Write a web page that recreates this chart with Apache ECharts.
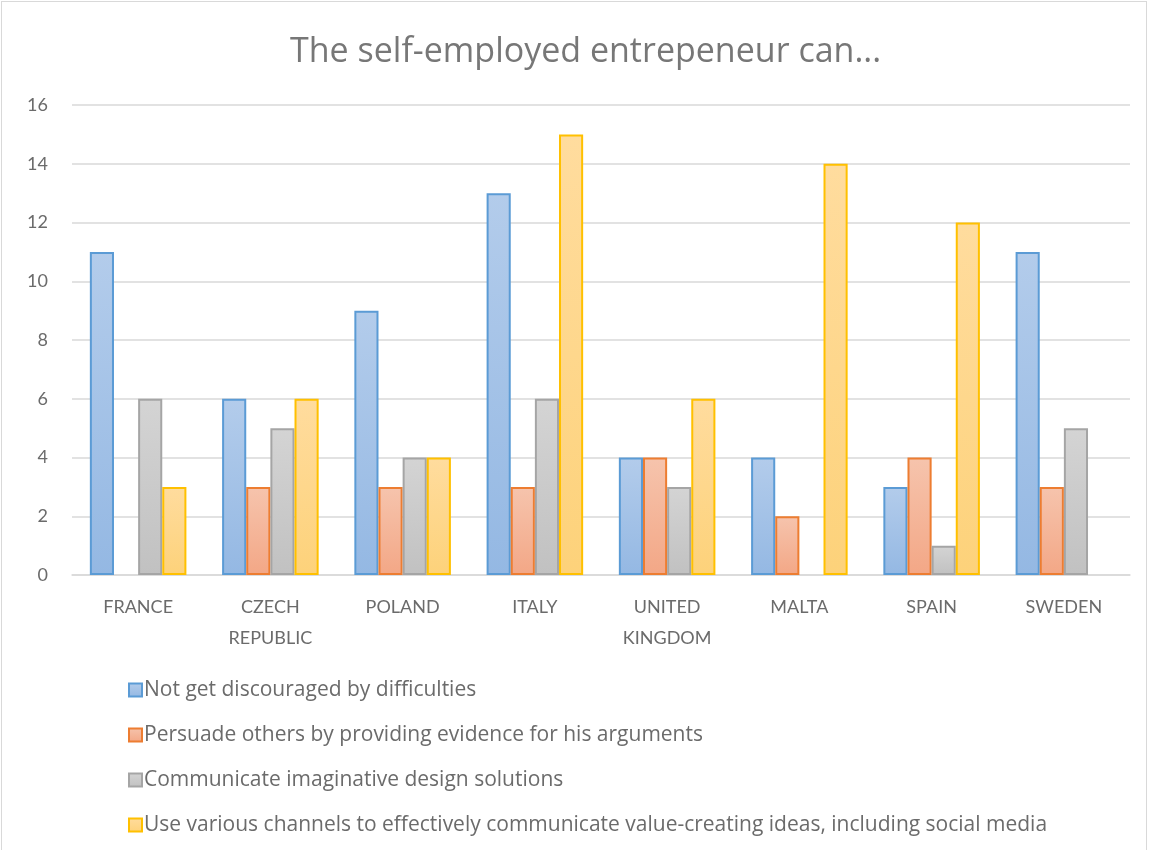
<!DOCTYPE html>
<html>
<head>
<meta charset="utf-8">
<script src="https://cdn.jsdelivr.net/npm/echarts@6/dist/echarts.min.js"></script>
<style>
  html, body { margin: 0; padding: 0; background: #fff; }
  #chart { position: absolute; left: 1px; top: 1px; width: 1146px; height: 860px;
    border: 1px solid #d9d9d9; box-sizing: border-box; }
</style>
</head>
<body>
<div id="chart"></div>
<script>
// data
const countries = ['FRANCE', 'CZECH\nREPUBLIC', 'POLAND', 'ITALY', 'UNITED\nKINGDOM', 'MALTA', 'SPAIN', 'SWEDEN']
const seriesNames = [
  'Not get discouraged by difficulties',
  'Persuade others by providing evidence for his arguments',
  'Communicate imaginative design solutions',
  'Use various channels to effectively communicate value-creating ideas, including social media'
]
const notDiscouraged = [11, 6, 9, 13, 4, 4, 3, 11]
const persuade = [null, 3, 3, 3, 4, 2, 4, 3]
const imaginative = [6, 5, 4, 6, 3, null, 1, 5]
const channels = [3, 6, 4, 15, 6, 14, 12, null]

const colors = [
  { top: '#b3cceb', bottom: '#94b8e3', line: '#5b9bd5' },
  { top: '#f6c4ad', bottom: '#f3a786', line: '#ed7d31' },
  { top: '#d4d4d4', bottom: '#c1c1c1', line: '#a5a5a5' },
  { top: '#ffdc9e', bottom: '#fdd27a', line: '#ffc000' }
]
const fontFamily = 'Lato, "Open Sans", sans-serif'
const wideFont = '"Open Sans", Lato, sans-serif'
const textColor = '#6b6b6b'

const chart = echarts.init(document.getElementById('chart'))
const allData = [notDiscouraged, persuade, imaginative, channels]

chart.setOption({
  animation: false,
  title: {
    text: 'The self-employed entrepeneur can...',
    left: 288,
    top: 33,
    padding: 0,
    textStyle: { color: '#777777', fontSize: 34, fontWeight: 'normal', fontFamily: wideFont }
  },
  legend: {
    orient: 'vertical',
    left: 126,
    top: 674,
    padding: 0,
    itemGap: 17,
    itemWidth: 13,
    itemHeight: 13,
    icon: 'rect',
    textStyle: { color: textColor, fontSize: 21, lineHeight: 28, fontFamily: wideFont, padding: [0, 0, 0, -3] },
    data: seriesNames
  },
  grid: { left: 70, right: 16, top: 103, bottom: 285, containLabel: false },
  xAxis: {
    type: 'category',
    data: countries,
    axisLine: { lineStyle: { color: '#d9d9d9', width: 1.5 } },
    axisTick: { show: false },
    axisLabel: { color: textColor, fontSize: 18, fontFamily, margin: 17, lineHeight: 31, interval: 0 }
  },
  yAxis: {
    type: 'value',
    min: 0,
    max: 16,
    interval: 2,
    axisLine: { show: false },
    axisTick: { show: false },
    splitLine: { lineStyle: { color: '#d9d9d9', width: 1.5 } },
    axisLabel: { color: textColor, fontSize: 18, fontFamily, margin: 24 }
  },
  series: allData.map((d, i) => ({
    name: seriesNames[i],
    type: 'bar',
    data: d,
    barGap: '0%',
    barCategoryGap: '27%',
    itemStyle: {
      color: new echarts.graphic.LinearGradient(0, 0, 0, 1, [
        { offset: 0, color: colors[i].top },
        { offset: 1, color: colors[i].bottom }
      ]),
      borderColor: colors[i].line,
      borderWidth: 2
    }
  }))
})
</script>
</body>
</html>
